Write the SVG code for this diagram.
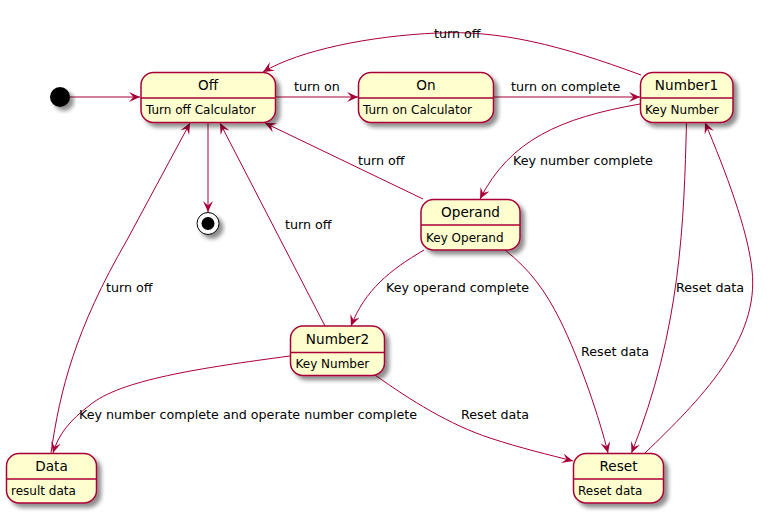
<svg xmlns="http://www.w3.org/2000/svg" width="781" height="514" viewBox="0 0 781 514">
<style>
.st rect{fill:#FEFECE;stroke:#A80036;stroke-width:1.5;}
.st line{stroke:#A80036;stroke-width:1.5;}
.t{font-family:"DejaVu Sans",sans-serif;font-size:13.6px;fill:#000;text-anchor:middle;}
.a{font-family:"DejaVu Sans",sans-serif;font-size:12px;fill:#000;}
.l{font-family:"DejaVu Sans",sans-serif;font-size:12.7px;fill:#000;}
#edges path,#edges line{fill:none;stroke:#A80036;stroke-width:1;marker-end:url(#ah);}
</style>
<defs>
<filter id="sh" x="-20%" y="-20%" width="150%" height="160%">
<feGaussianBlur in="SourceAlpha" stdDeviation="2"/>
<feOffset dx="4" dy="4" result="b"/>
<feComponentTransfer><feFuncA type="linear" slope="0.45"/></feComponentTransfer>
<feMerge><feMergeNode/><feMergeNode in="SourceGraphic"/></feMerge>
</filter>
<marker id="ah" viewBox="0 0 10 10" markerUnits="userSpaceOnUse" markerWidth="11" markerHeight="11" refX="10" refY="5" orient="auto">
<path d="M0,0.5 L10,5 L0,9.5 L4,5 Z" fill="#A80036"/>
</marker>
</defs>
<rect width="781" height="514" fill="#fff"/>

<g id="edges">
<line x1="70" y1="97" x2="140" y2="97"/>
<line x1="275.5" y1="97" x2="358" y2="97"/>
<line x1="493.5" y1="97" x2="640" y2="97"/>
<line x1="208" y1="122.5" x2="208" y2="212"/>
<path d="M641,75 C560,45 500,30 437,33 C370,36 300,50 263,72"/>
<path d="M640,104 C560,118 510,140 480,199"/>
<line x1="423" y1="199" x2="265" y2="123"/>
<path d="M424,250 C390,270 365,290 351,326"/>
<path d="M505,250 C530,270 545,290 560,320 C580,360 600,420 608,453"/>
<path d="M686.5,122.5 C684,220 681,330 631.5,453"/>
<path d="M645,453 C700,400 760,340 752,270 C748,230 725,170 705,122.5"/>
<line x1="325" y1="326" x2="220" y2="123"/>
<path d="M51,453 C60,390 75,330 127,240 L190,123"/>
<path d="M290,356 C200,368 120,380 90,405 C70,420 58,435 53,453"/>
<path d="M375,375 C410,400 450,425 490,438 C520,448 550,455 573,461"/>
<text class="l" x="294" y="91">turn on</text>
<text class="l" x="511" y="91">turn on complete</text>
<text class="l" x="434" y="38">turn off</text>
<text class="l" x="513" y="165">Key number complete</text>
<text class="l" x="358" y="165">turn off</text>
<text class="l" x="285" y="229">turn off</text>
<text class="l" x="106" y="292">turn off</text>
<text class="l" x="386" y="292">Key operand complete</text>
<text class="l" x="676" y="292">Reset data</text>
<text class="l" x="581" y="356">Reset data</text>
<text class="l" x="79" y="419">Key number complete and operate number complete</text>
<text class="l" x="461" y="419">Reset data</text>
</g>

<g id="start"><circle cx="60" cy="97" r="10" fill="#000" filter="url(#sh)"/></g>
<g id="end">
<circle cx="208" cy="223.5" r="11" fill="#fff" stroke="#000" stroke-width="1" filter="url(#sh)"/>
<circle cx="208" cy="223.5" r="6.5" fill="#000"/>
</g>

<g id="Off" class="st">
<rect x="141" y="72.5" width="134.5" height="50" rx="12.5" filter="url(#sh)"/>
<line x1="141" y1="98" x2="275.5" y2="98"/>
<text class="t" x="208" y="90">Off</text>
<text class="a" x="146" y="114">Turn off Calculator</text>
</g>
<g id="On" class="st">
<rect x="358.5" y="72.5" width="135" height="50" rx="12.5" filter="url(#sh)"/>
<line x1="358.5" y1="98" x2="493.5" y2="98"/>
<text class="t" x="426" y="90">On</text>
<text class="a" x="363" y="114">Turn on Calculator</text>
</g>
<g id="Number1" class="st">
<rect x="640.5" y="72.5" width="92.5" height="50" rx="12.5" filter="url(#sh)"/>
<line x1="640.5" y1="98" x2="733" y2="98"/>
<text class="t" x="686.5" y="90">Number1</text>
<text class="a" x="645" y="114">Key Number</text>
</g>
<g id="Operand" class="st">
<rect x="421" y="199.5" width="99" height="50.5" rx="12.5" filter="url(#sh)"/>
<line x1="421" y1="225" x2="520" y2="225"/>
<text class="t" x="470.5" y="217">Operand</text>
<text class="a" x="426" y="241.5">Key Operand</text>
</g>
<g id="Number2" class="st">
<rect x="290.5" y="326" width="94" height="49.5" rx="12.5" filter="url(#sh)"/>
<line x1="290.5" y1="352.5" x2="384.5" y2="352.5"/>
<text class="t" x="337.5" y="344">Number2</text>
<text class="a" x="295.5" y="368">Key Number</text>
</g>
<g id="Data" class="st">
<rect x="6.5" y="453.5" width="90" height="49.5" rx="12.5" filter="url(#sh)"/>
<line x1="6.5" y1="479" x2="96.5" y2="479"/>
<text class="t" x="51.5" y="471">Data</text>
<text class="a" x="11" y="495">result data</text>
</g>
<g id="Reset" class="st">
<rect x="573.5" y="453.5" width="90" height="49.5" rx="12.5" filter="url(#sh)"/>
<line x1="573.5" y1="479" x2="663.5" y2="479"/>
<text class="t" x="618.5" y="471">Reset</text>
<text class="a" x="578" y="495">Reset data</text>
</g>
</svg>
